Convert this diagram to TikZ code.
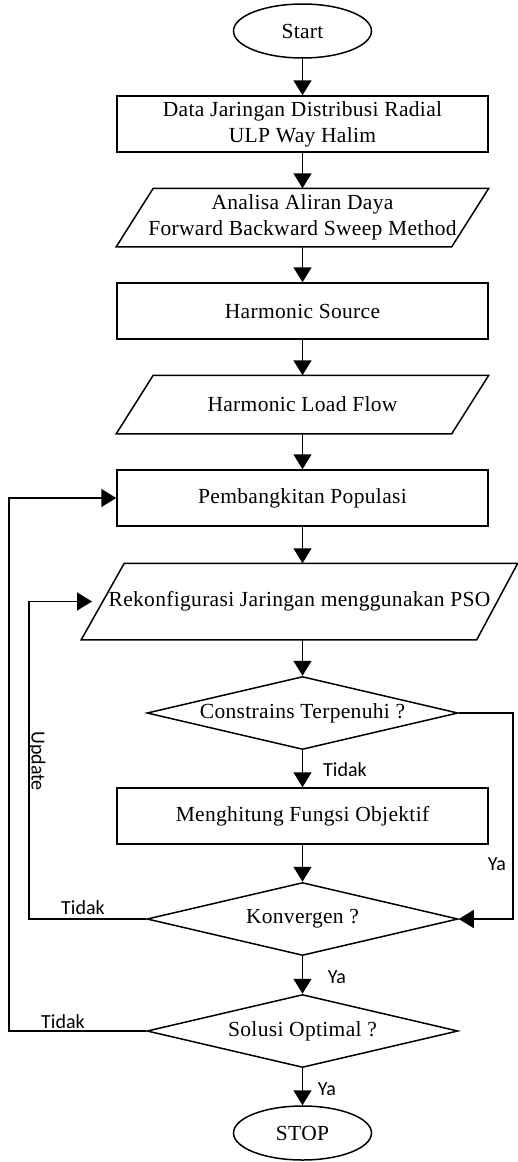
\documentclass[tikz,border=0pt]{standalone}
\usepackage{fontspec}
\setmainfont[LetterSpace=1.5]{Liberation Serif}
\newfontfamily\lab{Carlito}
\usetikzlibrary{arrows.meta,shapes.geometric,calc}
\begin{document}
\begin{tikzpicture}[x=1pt,y=-1pt,
  line width=1.5pt,
  every node/.style={font=\fontsize{21.5}{26}\selectfont},
  arr/.style={-{Triangle[length=15pt,width=18pt]}},
  term/.style={ellipse,draw,minimum width=138pt,minimum height=54pt,inner sep=0pt},
  proc/.style={rectangle,draw,minimum width=371pt,minimum height=56pt,inner sep=0pt,align=center},
  iobox/.style={rectangle,draw=none,minimum width=371pt,minimum height=57pt,inner sep=0pt,align=center},
  dec/.style={diamond,draw,minimum width=311pt,minimum height=73pt,inner sep=0pt},
  lbl/.style={font=\lab\fontsize{20}{24}\selectfont,inner sep=0pt}
]
\useasboundingbox (0,0) rectangle (518,1162);

\node[term] (start) at (302.5,31) {Start};
\node[proc] (d1) at (302.5,124) {Data Jaringan Distribusi Radial\\ULP Way Halim};
\node[iobox] (p1) at (302.5,217.5) {Analisa Aliran Daya\\Forward Backward Sweep Method};
\node[proc] (hs) at (302.5,311) {Harmonic Source};
\node[iobox] (p2) at (302.5,404.5) {Harmonic Load Flow};
\node[proc] (pop) at (302.5,498) {Pembangkitan Populasi};
\node[iobox,minimum width=435pt,minimum height=75pt] (p3) at (299.5,601.5) {Rekonfigurasi Jaringan menggunakan PSO};
\node[dec,label=center:{Constrains Terpenuhi ?}] (c1) at (302.5,713) {};
\node[proc] (mf) at (302.5,816) {Menghitung Fungsi Objektif};
\node[dec,label=center:{Konvergen ?}] (kv) at (302.5,919) {};
\node[dec,label=center:{Solusi Optimal ?}] (so) at (302.5,1031) {};
\node[term] (stop) at (302.5,1133) {STOP};

% parallelogram outlines
\draw (p1.south west) -- ([xshift=37pt]p1.north west) -- (p1.north east) -- ([xshift=-37pt]p1.south east) -- cycle;
\draw (p2.south west) -- ([xshift=37pt]p2.north west) -- (p2.north east) -- ([xshift=-37pt]p2.south east) -- cycle;
\draw (p3.south west) -- ([xshift=43pt]p3.north west) -- (p3.north east) -- ([xshift=-41pt]p3.south east) -- cycle;

% main flow
\draw[arr] (start) -- (d1);
\draw[arr] (d1) -- (p1);
\draw[arr] (p1) -- (hs);
\draw[arr] (hs) -- (p2);
\draw[arr] (p2) -- (pop);
\draw[arr] (pop) -- (pop |- p3.north);
\draw[arr] (p3.south -| c1) -- (c1);
\draw[arr] (c1) -- (mf);
\draw[arr] (mf) -- (kv);
\draw[arr] (kv) -- (so);
\draw[arr] (so) -- (stop);

% loops
\coordinate (rY) at (513,713);
\draw[arr] (c1.east) -- (rY) |- (kv.east);
\coordinate (lK) at (29,919);
\coordinate (p3in) at (92,601.5);
\draw[arr] (kv.west) -- (lK) |- (p3in);
\coordinate (lS) at (9,1031);
\draw[arr] (so.west) -- (lS) |- (pop.west);

% labels
\node[lbl] (t1) at (345,770) {Tidak};
\node[lbl] (y1) at (497,864) {Ya};
\node[lbl] (t2) at (83,908) {Tidak};
\node[lbl,rotate=-90] (up) at (37,761) {Update};
\node[lbl] (y2) at (337,977) {Ya};
\node[lbl] (t3) at (63,1022) {Tidak};
\node[lbl] (y3) at (327,1089) {Ya};
\end{tikzpicture}
\end{document}
